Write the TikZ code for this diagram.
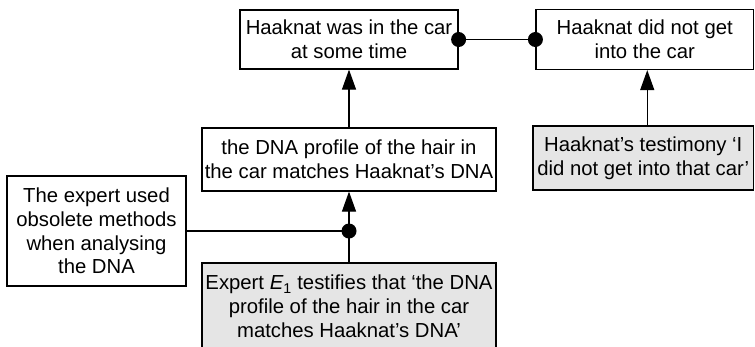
\documentclass[tikz,border=0pt]{standalone}
\usepackage{fontspec}
\setmainfont{Liberation Sans}
\usetikzlibrary{arrows.meta}
\begin{document}
\begin{tikzpicture}[x=1pt,y=-1pt,
 box/.style={draw,line width=1.2pt,inner sep=0pt,align=center,font=\fontsize{20.3}{23.8}\selectfont},
 gbox/.style={box,fill=black!10},
 conn/.style={line width=1.2pt},
 arr/.style={conn,-{Triangle[length=20pt,width=14pt]}},
 dot/.style={circle,fill=black,inner sep=0pt,minimum size=15pt}]
\useasboundingbox (0,0) rectangle (755,346);
\clip (0,0) rectangle (755,346);
\node[box,minimum width=218pt,minimum height=59pt] (A) at (349,39.5) {Haaknat was in the car\\at some time};
\node[box,minimum width=217.5pt,minimum height=60pt] (B) at (644.75,39.5) {Haaknat did not get\\into the car};
\node[gbox,minimum width=220.5pt,minimum height=64pt] (C) at (643.25,158) {Haaknat’s testimony ‘I\\did not get into that car’};
\node[box,minimum width=294pt,minimum height=63pt] (D) at (349,159.5) {the DNA profile of the hair in\\the car matches Haaknat’s DNA};
\node[box,minimum width=179pt,minimum height=110pt] (E) at (96.5,231) {The expert used\\obsolete methods\\when analysing\\the DNA};
\node[gbox,minimum width=294pt,minimum height=87pt] (F) at (349,306.5) {Expert {\itshape E}\textsubscript{1} testifies that ‘the DNA\\profile of the hair in the car\\matches Haaknat’s DNA’};
\draw[conn] (A.east) -- (B.west);
\node[dot] (d1) at (A.east) {};
\node[dot] (d2) at (B.west) {};
\draw[arr] ([xshift=4pt]C.north) -- ([xshift=4pt]C.north |- B.south);
\draw[arr] (D.north) -- (A.south);
\coordinate (jp) at (F.north |- E.east);
\draw[conn] (E.east) -- (jp);
\draw[conn] (F.north) -- (jp);
\draw[arr] (jp) -- (D.south);
\node[dot] (j) at (jp) {};
\end{tikzpicture}
\end{document}
